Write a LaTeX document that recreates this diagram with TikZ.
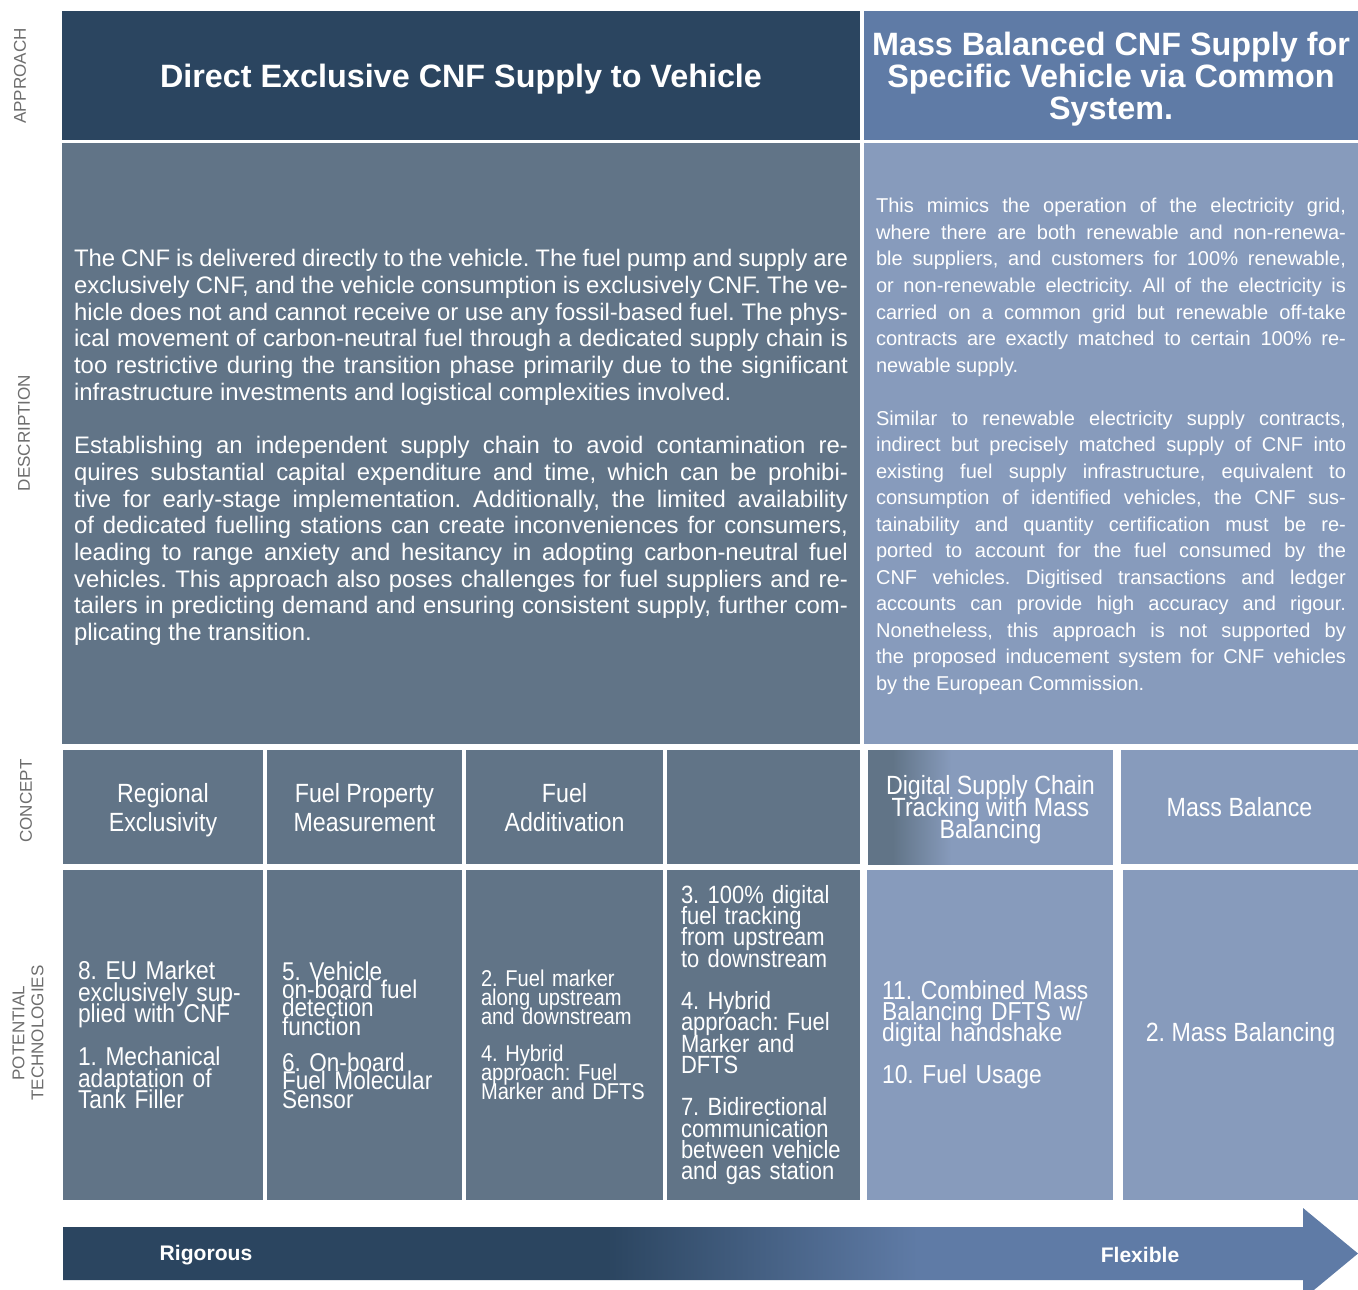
\documentclass[tikz,border=0pt]{standalone}
\usepackage{fontspec}
\setmainfont{Liberation Sans}
\newfontfamily\narrowsf[FakeStretch=0.88]{Liberation Sans}
\usepackage{xcolor}
\definecolor{headdark}{HTML}{2B4560}
\definecolor{headlight}{HTML}{5F7BA6}
\definecolor{celldark}{HTML}{617487}
\definecolor{celllight}{HTML}{879BBC}
\definecolor{sidegray}{HTML}{6E6E6E}
\pgfdeclarehorizontalshading{cellshade}{100bp}{color(0bp)=(celldark); color(30bp)=(celldark); color(42bp)=(celllight); color(100bp)=(celllight)}
\pgfdeclarehorizontalshading{arrowshade}{100bp}{color(0bp)=(headdark); color(46bp)=(headdark); color(58bp)=(headlight); color(100bp)=(headlight)}
\setlength{\parindent}{0pt}
\frenchspacing
\tolerance=10000
\hbadness=10000

\begin{document}
\begin{tikzpicture}[x=0.02cm, y=-0.02cm,
        side/.style={rotate=90, text=sidegray, align=center, font=\fontsize{9.7}{10.8}\selectfont},
        cell/.style={text=white, inner ysep=0pt, anchor=center,
            execute at begin node={\lineskiplimit=-30pt\lineskip=0pt\relax}},
        head/.style={cell, text depth=0pt, minimum height=2.58cm, font=\bfseries\fontsize{18.4}{18.2}\selectfont},
        conc/.style={cell, text depth=0pt, minimum height=2.28cm, align=center, font=\narrowsf\fontsize{15}{16.5}\selectfont},
        tech/.style={cell, minimum height=6.6cm, align=left, inner xsep=0.3cm}]
        \useasboundingbox (0,0) rectangle (1358,1289);
        \fill[white] (0,0) rectangle (1358,1289);

        \node[side] (approach) at (20,76) {APPROACH};
        \node[side] (descr) at (24,433) {DESCRIPTION};
        \node[side] (concept) at (26,801) {CONCEPT};
        \node[side] (potech) at (28,1033) {POTENTIAL\\TECHNOLOGIES};

        \node[head, fill=headdark, minimum width=15.96cm] (directhead) at (461,75.5) {Direct Exclusive CNF Supply to Vehicle};
        \node[head, fill=headlight, minimum width=9.88cm, align=center] (masshead) at (1111,75.5) {Mass Balanced CNF Supply for\\Specific Vehicle via Common\\System.};

        \node[cell, fill=celldark, minimum height=12.02cm, text width=15.48cm, inner xsep=0.24cm, align=justify, font=\fontsize{13.6}{15.2}\selectfont] (directdesc) at (461,443.5) {The CNF is delivered directly to the vehicle. The fuel pump and supply are\linebreak
exclusively CNF, and the vehicle consumption is exclusively CNF. The ve-\linebreak
hicle does not and cannot receive or use any fossil-based fuel. The phys-\linebreak
ical movement of carbon-neutral fuel through a dedicated supply chain is\linebreak
too restrictive during the transition phase primarily due to the significant\linebreak
infrastructure investments and logistical complexities involved.\par
\vspace{15.2pt}
Establishing an independent supply chain to avoid contamination re-\linebreak
quires substantial capital expenditure and time, which can be prohibi-\linebreak
tive for early-stage implementation. Additionally, the limited availability\linebreak
of dedicated fuelling stations can create inconveniences for consumers,\linebreak
leading to range anxiety and hesitancy in adopting carbon-neutral fuel\linebreak
vehicles. This approach also poses challenges for fuel suppliers and re-\linebreak
tailers in predicting demand and ensuring consistent supply, further com-\linebreak
plicating the transition.\par\vspace{-0.16cm}};
        \node[cell, fill=celllight, minimum height=12.02cm, text width=9.4cm, inner xsep=0.24cm, align=justify, font=\fontsize{11.4}{15.1}\selectfont] (massdesc) at (1111,443.5) {This mimics the operation of the electricity grid,\linebreak
where there are both renewable and non-renewa-\linebreak
ble suppliers, and customers for 100\% renewable,\linebreak
or non-renewable electricity. All of the electricity is\linebreak
carried on a common grid but renewable off-take\linebreak
contracts are exactly matched to certain 100\% re-\linebreak
newable supply.\par
\vspace{15.1pt}
Similar to renewable electricity supply contracts,\linebreak
indirect but precisely matched supply of CNF into\linebreak
existing fuel supply infrastructure, equivalent to\linebreak
consumption of identified vehicles, the CNF sus-\linebreak
tainability and quantity certification must be re-\linebreak
ported to account for the fuel consumed by the\linebreak
CNF vehicles. Digitised transactions and ledger\linebreak
accounts can provide high accuracy and rigour.\linebreak
Nonetheless, this approach is not supported by\linebreak
the proposed inducement system for CNF vehicles\linebreak
by the European Commission.\par\vspace{-0.12cm}};

        \node[conc, fill=celldark, minimum width=4cm] (regional) at (163,807) {Regional\\Exclusivity};
        \node[conc, fill=celldark, minimum width=3.9cm] (property) at (364.5,807) {Fuel Property\\Measurement};
        \node[conc, fill=celldark, minimum width=3.94cm] (additiv) at (564.5,807) {Fuel\\Additivation};
        \node[conc, fill=celldark, minimum width=3.86cm] (blankconc) at (763.5,807) {};
        \node[conc, shade, shading=cellshade, minimum width=4.9cm, text depth=-0.12cm, font=\narrowsf\fontsize{15}{12.5}\selectfont] (tracking) at (990.5,807) {Digital Supply Chain\\Tracking with Mass\\Balancing};
        \node[conc, fill=celllight, minimum width=4.74cm] (massbal) at (1239.5,807) {Mass Balance};

        \node[tech, fill=celldark, minimum width=4cm, text width=3.4cm, font=\narrowsf\fontsize{14.7}{12.2}\selectfont] (techregional) at (163,1035) {8. EU Market\\exclusively sup-\\plied with CNF\\[12.2pt]1. Mechanical\\adaptation of\\Tank Filler};
        \node[tech, fill=celldark, minimum width=3.9cm, text width=3.3cm, font=\narrowsf\fontsize{14.6}{10.5}\selectfont] (techproperty) at (364.5,1035) {5. Vehicle\\on-board fuel\\detection\\function\\[10pt]6. On-board\\Fuel Molecular\\Sensor};
        \node[tech, fill=celldark, minimum width=3.94cm, text width=3.34cm, font=\narrowsf\fontsize{13}{10.8}\selectfont] (techadditiv) at (564.5,1035) {2. Fuel marker\\along upstream\\and downstream\\[10.3pt]4. Hybrid\\approach: Fuel\\Marker and DFTS};
        \node[tech, fill=celldark, minimum width=3.86cm, text width=3.3cm, inner xsep=0.28cm, font=\narrowsf\fontsize{14.2}{12.1}\selectfont] (techdigital) at (763.5,1035) {3. 100\% digital\\fuel tracking\\from upstream\\to downstream\\[12.1pt]4. Hybrid\\approach: Fuel\\Marker and\\DFTS\\[12.1pt]7. Bidirectional\\communication\\between vehicle\\and gas station};
        \node[tech, fill=celllight, minimum width=4.92cm, text width=4.32cm, font=\narrowsf\fontsize{14.8}{12}\selectfont] (techtracking) at (990,1035) {11. Combined Mass\\Balancing DFTS w/\\digital handshake\\[12pt]10. Fuel Usage};
        \node[tech, fill=celllight, minimum width=4.7cm, align=center, font=\narrowsf\fontsize{15}{12}\selectfont] (techmassbal) at (1240.5,1035) {2. Mass Balancing};

        \shade[shading=arrowshade] (63,1227) -- (1303,1227) -- (1303,1208) -- (1358,1253.5) -- (1303,1299) -- (1303,1280) -- (63,1280) -- cycle;
        \node[text=white, font=\bfseries\fontsize{12}{14}\selectfont] (rigorous) at (206,1255) {Rigorous};
        \node[text=white, font=\bfseries\fontsize{12}{14}\selectfont] (flexible) at (1140,1255) {Flexible};
\end{tikzpicture}
\end{document}
